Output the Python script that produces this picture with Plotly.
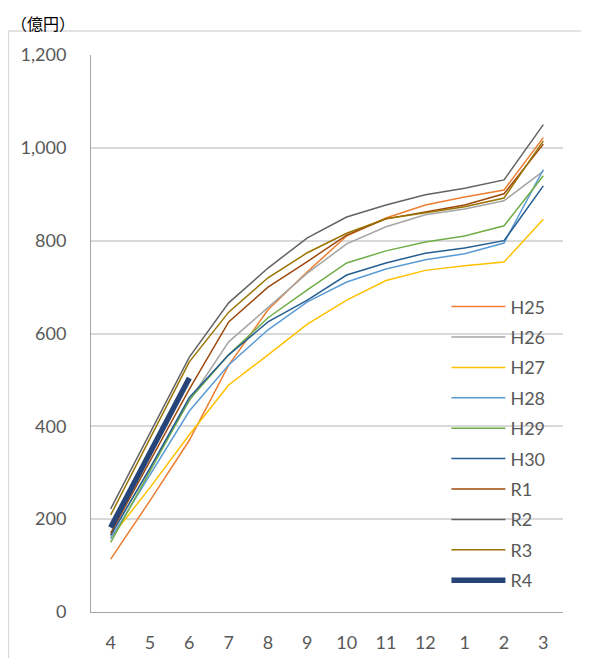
import plotly.graph_objects as go

months = ["4", "5", "6", "7", "8", "9", "10", "11", "12", "1", "2", "3"]

H25 = [114, 240, 370, 532, 651, 733, 810, 849, 877, 894, 909, 1022]
H26 = [165, 310, 455, 582, 657, 730, 793, 830, 856, 868, 886, 950]
H27 = [160, 268, 382, 489, 554, 620, 672, 714, 736, 746, 754, 846]
H28 = [158, 295, 433, 532, 608, 668, 711, 739, 759, 772, 795, 953]
H29 = [150, 305, 457, 554, 634, 694, 752, 778, 797, 810, 832, 940]
H30 = [165, 310, 462, 554, 625, 672, 726, 752, 773, 784, 800, 918]
R1 = [170, 325, 480, 625, 700, 755, 812, 847, 862, 877, 901, 1008]
R2 = [222, 385, 549, 666, 741, 806, 851, 877, 899, 913, 931, 1050]
R3 = [209, 375, 539, 646, 720, 774, 816, 847, 860, 873, 892, 1015]
R4 = [182, 345, 504]

series = [
    ("H25", H25, "#ED7D31", 1.5),
    ("H26", H26, "#A5A5A5", 1.5),
    ("H27", H27, "#FFC000", 1.5),
    ("H28", H28, "#5B9BD5", 1.5),
    ("H29", H29, "#70AD47", 1.5),
    ("H30", H30, "#255E91", 1.5),
    ("R1", R1, "#9E480E", 1.5),
    ("R2", R2, "#636363", 1.5),
    ("R3", R3, "#997300", 1.5),
    ("R4", R4, "#264478", 5.5),
]

FONT = "Lato, 'Noto Sans', sans-serif"

fig = go.Figure()
for name, vals, color, w in series:
    fig.add_trace(go.Scatter(
        x=months[:len(vals)], y=vals, name=name, mode="lines",
        line=dict(color=color, width=w), legendgroup=name,
    ))

fig.update_layout(
    width=589, height=658,
    margin=dict(l=83, r=34, t=47, b=54),
    paper_bgcolor="white", plot_bgcolor="white",
    font=dict(family=FONT, size=18, color="#595959"),
    showlegend=True,
    legend=dict(
        x=0.753, xanchor="left", y=0.581, yanchor="top",
        bgcolor="rgba(0,0,0,0)", font=dict(size=18, color="#595959"),
        tracegroupgap=4, itemwidth=54,
    ),
    xaxis=dict(
        type="category", categoryorder="array", categoryarray=months,
        range=[-0.5, 11.5], showgrid=False, showline=True,
        linecolor="#A6A6A6", linewidth=1, ticks="",
        tickfont=dict(size=18, color="#595959"), ticklabelstandoff=14,
        automargin=False,
    ),
    yaxis=dict(
        range=[0, 1200], tickvals=[0, 200, 400, 600, 800, 1000, 1200],
        tickformat=",", showgrid=True, gridcolor="#D9D9D9", gridwidth=1.5,
        showline=True, linecolor="#A6A6A6", linewidth=1, zeroline=False,
        ticks="", tickfont=dict(size=18, color="#595959"), ticklabelstandoff=20,
        automargin=False,
    ),
    shapes=[dict(
        type="rect", xref="paper", yref="paper",
        x0=-0.175, x1=1.051, y0=-0.1, y1=1.043,
        line=dict(color="#D9D9D9", width=1.5), fillcolor="rgba(0,0,0,0)",
        layer="below",
    )],
    annotations=[dict(
        text="（億円）", xref="paper", yref="paper",
        x=-0.174, y=1.083, xanchor="left", yanchor="top",
        showarrow=False, font=dict(size=16, color="#000000",
                                   family="'Noto Sans CJK JP', sans-serif"),
    )],
)

fig.write_html("out.html")
